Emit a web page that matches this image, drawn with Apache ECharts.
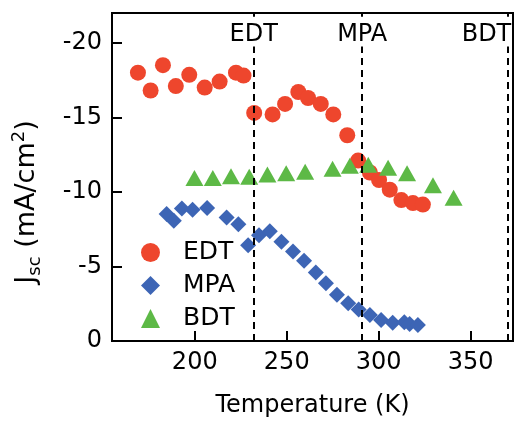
<!DOCTYPE html>
<html>
<head>
<meta charset="utf-8">
<script src="https://cdn.jsdelivr.net/npm/echarts@6/dist/echarts.min.js"></script>
<style>
html,body{margin:0;padding:0;background:#fff;}
#chart{width:517px;height:423px;}
</style>
</head>
<body>
<div id="chart"></div>
<script>
// Data
const edtTemp = [169.1,176.0,182.7,189.7,197.0,205.4,213.5,222.4,226.5,232.3,242.3,249.1,256.3,261.6,268.5,275.3,282.9,288.8,295.2,300.2,306.0,312.3,318.6,324.0];
const edtJsc  = [-18.0,-16.8,-18.5,-17.1,-17.85,-17.0,-17.4,-18.0,-17.8,-15.3,-15.2,-15.9,-16.7,-16.3,-15.9,-15.2,-13.8,-12.1,-11.3,-10.8,-10.15,-9.45,-9.25,-9.15];

const mpaTemp = [184.7,188.6,193.0,198.8,206.7,217.3,223.7,229.0,234.9,240.8,247.1,253.4,259.4,265.8,271.3,277.3,283.4,289.1,295.2,301.3,307.6,313.9,316.8,321.3];
const mpaJsc  = [-8.52,-8.06,-8.89,-8.80,-8.92,-8.28,-7.83,-6.43,-7.09,-7.36,-6.65,-6.0,-5.39,-4.59,-3.87,-3.1,-2.54,-2.11,-1.74,-1.41,-1.22,-1.26,-1.14,-1.08];

const bdtTemp = [199.8,209.8,219.7,229.6,239.5,249.7,260.0,274.9,284.3,294.3,305.1,315.4,329.5,340.7];
const bdtJsc  = [-10.94,-10.94,-11.05,-11.02,-11.16,-11.25,-11.36,-11.56,-11.76,-11.82,-11.62,-11.25,-10.45,-9.61];

const refTemps = [232, 291, 370];
const refNames = ['EDT', 'MPA', 'BDT'];

const xTicks = [200, 250, 300, 350];
const yTicks = [0, -5, -10, -15, -20];

const xMin = 155, xMax = 373;
const yMin = -22, yMax = 0;

const FONT = 'DejaVu Sans';

function pairs(xs, ys) { return xs.map((x, i) => [x, ys[i]]); }

const markLineData = [];
refTemps.forEach((t, i) => {
  const last = i === refTemps.length - 1;
  markLineData.push([
    { coord: [t, 0] },
    { coord: [t, -19.75], label: { show: true, formatter: refNames[i], padding: last ? [0, 42, 0, 0] : 0 } }
  ]);
  markLineData.push([
    { coord: [t, -21.75] },
    { coord: [t, -22], label: { show: false } }
  ]);
});

const chart = echarts.init(document.getElementById('chart'), null, { renderer: 'canvas' });
chart.setOption({
  animation: false,
  backgroundColor: '#fff',
  textStyle: { fontFamily: FONT, color: '#000' },
  grid: { left: 112, right: 4, top: 13, bottom: 78, show: true, borderColor: '#000', borderWidth: 2 },
  legend: {
    orient: 'vertical',
    left: 136, top: 235,
    itemWidth: 19, itemHeight: 19, itemGap: 8,
    textStyle: { fontSize: 25, color: '#000', fontFamily: FONT, padding: [0, 0, 0, 18], lineHeight: 25 },
    data: ['EDT', 'MPA', 'BDT']
  },
  xAxis: {
    type: 'value', min: xMin, max: xMax,
    name: 'Temperature (K)', nameLocation: 'middle', nameGap: 53,
    nameTextStyle: { fontSize: 24, color: '#000', fontFamily: FONT },
    axisLine: { show: true, lineStyle: { color: '#000', width: 2 } },
    axisTick: { show: true, inside: true, length: 10, lineStyle: { color: '#000', width: 2 }, customValues: xTicks },
    axisLabel: { fontSize: 24, color: '#000', margin: 10, fontFamily: FONT, customValues: xTicks },
    splitLine: { show: false }
  },
  yAxis: {
    type: 'value', min: yMin, max: yMax, inverse: true,
    name: '{n|J}{sub|sc}{n| (mA/cm}{sup|2}{n|)}',
    nameLocation: 'middle', nameRotate: 90, nameGap: 68,
    nameTextStyle: {
      color: '#000', fontFamily: FONT,
      padding: [0, 50, 0, 0],
      rich: {
        n: { fontSize: 27, lineHeight: 34, fontFamily: FONT, color: '#000' },
        sub: { fontSize: 18, lineHeight: 14, verticalAlign: 'bottom', fontFamily: FONT, color: '#000' },
        sup: { fontSize: 18, lineHeight: 16, verticalAlign: 'top', fontFamily: FONT, color: '#000' }
      }
    },
    axisLine: { show: true, lineStyle: { color: '#000', width: 2 } },
    axisTick: { show: true, inside: true, length: 10, lineStyle: { color: '#000', width: 2 }, customValues: yTicks },
    axisLabel: { fontSize: 24, color: '#000', margin: 10, fontFamily: FONT, customValues: yTicks },
    splitLine: { show: false }
  },
  series: [
    {
      name: 'EDT', type: 'scatter', symbol: 'circle', symbolSize: 16,
      itemStyle: { color: '#EE462D', opacity: 1 },
      data: pairs(edtTemp, edtJsc),
      markLine: {
        silent: true, symbol: ['none', 'none'],
        lineStyle: { color: '#000', width: 2, type: [7, 5] },
        label: { show: true, position: 'end', distance: 0, fontSize: 24, color: '#000', fontFamily: FONT },
        emphasis: { disabled: true },
        data: markLineData
      }
    },
    {
      name: 'MPA', type: 'scatter', symbol: 'diamond', symbolSize: 16,
      itemStyle: { color: '#3D65B5', opacity: 1 },
      data: pairs(mpaTemp, mpaJsc)
    },
    {
      name: 'BDT', type: 'scatter', symbol: 'triangle', symbolSize: [18, 16],
      itemStyle: { color: '#5DB946', opacity: 1 },
      data: pairs(bdtTemp, bdtJsc)
    }
  ]
});
</script>
</body>
</html>
